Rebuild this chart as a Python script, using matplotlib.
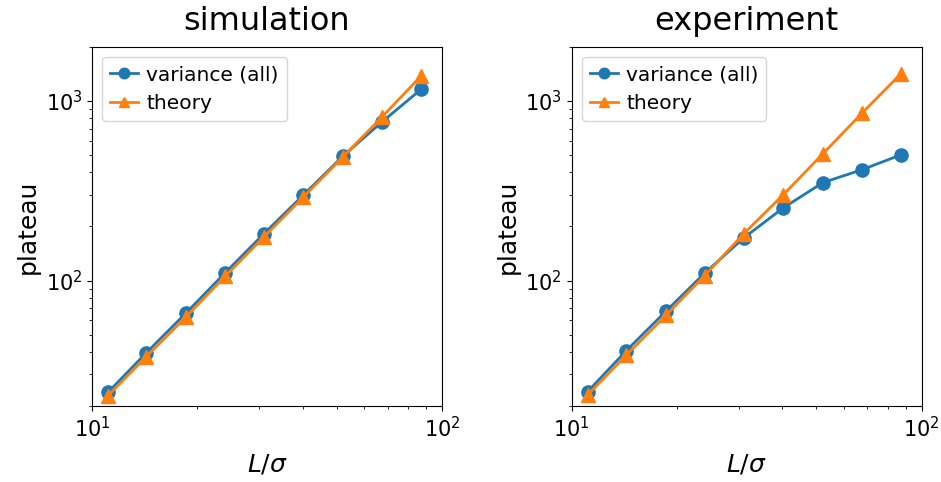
import matplotlib
matplotlib.use("Agg")
import matplotlib.pyplot as plt
from matplotlib.ticker import NullFormatter

# system size L/sigma
L = [11.1, 14.3, 18.6, 24.0, 31.0, 40.2, 52.2, 67.5, 87.1]

# plateau heights, simulation
sim_var = [23.8, 39.6, 66.2, 110.3, 182.4, 300, 495, 767, 1161]
sim_theory = [22.8, 37.7, 63.0, 105.6, 175, 292, 490, 818, 1377]

# plateau heights, experiment
exp_var = [24.0, 40.5, 67.5, 110, 172.5, 253.6, 351, 414, 501]
exp_theory = [23.0, 38.3, 64.0, 106.6, 182, 300, 508, 855, 1413]

fig = plt.figure(figsize=(9.41, 4.82), dpi=100)
ax1 = fig.add_axes([0.0978, 0.1577, 0.3719, 0.7448])
ax2 = fig.add_axes([0.6075, 0.1577, 0.3719, 0.7448])

for ax, var, th, title in [(ax1, sim_var, sim_theory, "simulation"),
                           (ax2, exp_var, exp_theory, "experiment")]:
    ax.plot(L, var, "o-", color="C0", lw=2, ms=9.5, label="variance (all)")
    ax.plot(L, th, "^-", color="C1", lw=2, ms=9.5, label="theory")
    ax.set_xscale("log")
    ax.set_yscale("log")
    ax.set_xlim(10, 100)
    ax.set_ylim(20, 2000)
    ax.xaxis.set_minor_formatter(NullFormatter())
    ax.yaxis.set_minor_formatter(NullFormatter())
    ax.set_title(title, fontsize=23, pad=12)
    ax.set_xlabel(r"$L/\sigma$", fontsize=18, labelpad=8)
    ax.set_ylabel("plateau", fontsize=18)
    ax.tick_params(labelsize=15)
    ax.legend(loc="upper left", fontsize=14.5, handlelength=1.4,
              handletextpad=0.4, markerscale=0.8)

fig.savefig("out.png", dpi=100)
